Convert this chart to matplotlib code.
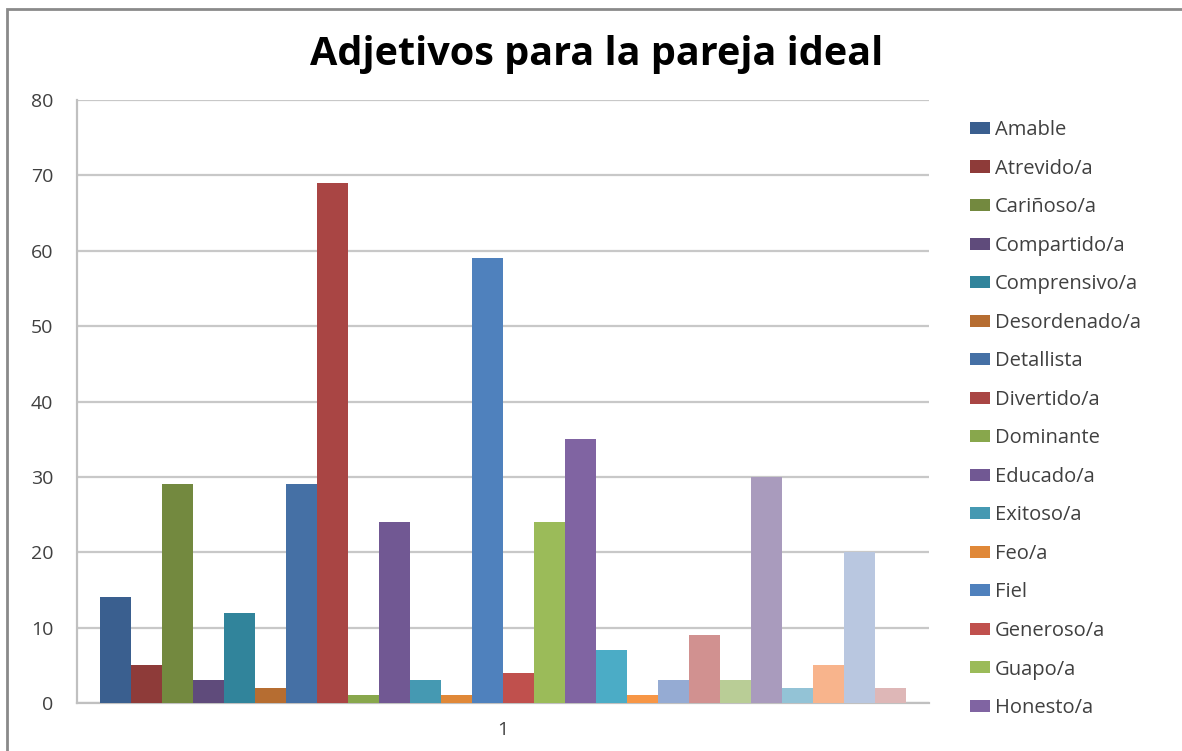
import matplotlib
matplotlib.use('Agg')
import matplotlib.pyplot as plt
from matplotlib.patches import Rectangle

plt.rcParams['font.family'] = ['Open Sans', 'DejaVu Sans']

# votes per adjective (only the first 16 names show in the legend)
names = ['Amable', 'Atrevido/a', 'Cariñoso/a', 'Compartido/a', 'Comprensivo/a',
         'Desordenado/a', 'Detallista', 'Divertido/a', 'Dominante', 'Educado/a',
         'Exitoso/a', 'Feo/a', 'Fiel', 'Generoso/a', 'Guapo/a', 'Honesto/a']
values = [14, 5, 29, 3, 12, 2, 29, 69, 1, 24, 3, 1, 59, 4, 24, 35,
          7, 1, 3, 9, 3, 30, 2, 5, 20, 2]
category = ['1']

colours = ['#3A5F8F', '#8E3B39', '#73893F', '#5F4B7B', '#31849B', '#B66D31',
           '#4570A5', '#A94544', '#88A74C', '#715893', '#4599B2', '#E08838',
           '#4F81BD', '#C0504D', '#9BBB59', '#8064A2', '#4BACC6', '#F79646',
           '#95ABD3', '#D19190', '#B9CD96', '#A99BBD', '#93C3D6', '#F8B48C',
           '#B9C7E0', '#DEB7B7']

fig = plt.figure(figsize=(11.82, 7.51), dpi=100)
ax = fig.add_axes([0.0651, 0.0639, 0.7209, 0.8029])

n = len(values)
gap = 1.5  # excel gap width 150%
w = 1.0 / (n + gap)
bars = []
for i, v in enumerate(values):
    x = -0.5 + w * (gap / 2 + i + 0.5)
    b = ax.bar(x, v, width=w, color=colours[i], edgecolor='none', zorder=3)
    bars.append(b)

ax.set_xlim(-0.5, 0.5)
ax.set_ylim(0, 80)
ax.set_yticks(range(0, 81, 10))
ax.set_xticks([0])
ax.set_xticklabels(category)
ax.tick_params(axis='both', length=0, labelsize=14, colors='#404040')
ax.tick_params(axis='y', pad=17)
ax.tick_params(axis='x', pad=13)
ax.grid(axis='y', color='#C8C8C8', linewidth=1.6, zorder=0)
for s in ['top', 'right']:
    ax.spines[s].set_visible(False)
for s in ['left', 'bottom']:
    ax.spines[s].set_color('#C0C0C0')
    ax.spines[s].set_linewidth(1.6)

ax.legend([b[0] for b in bars[:len(names)]], names, loc='upper left',
          bbox_to_anchor=(0.821, 0.840), bbox_transform=fig.transFigure,
          frameon=False, fontsize=14.5, labelspacing=0.92, handlelength=0.95,
          handleheight=0.55, handletextpad=0.28, borderaxespad=0,
          borderpad=0, labelcolor='#404040')

fig.text(0.505, 0.928, 'Adjetivos para la pareja ideal', ha='center',
         va='center', fontsize=28.5, fontweight='bold', color='black')

# chart frame (cropped screenshot: only top and left edges visible)
fig.add_artist(Rectangle((0.006, -0.1), 1.1, 1.088, transform=fig.transFigure,
                         fill=False, edgecolor='#8A8A8A', linewidth=2))

fig.savefig('out.png', dpi=100)
